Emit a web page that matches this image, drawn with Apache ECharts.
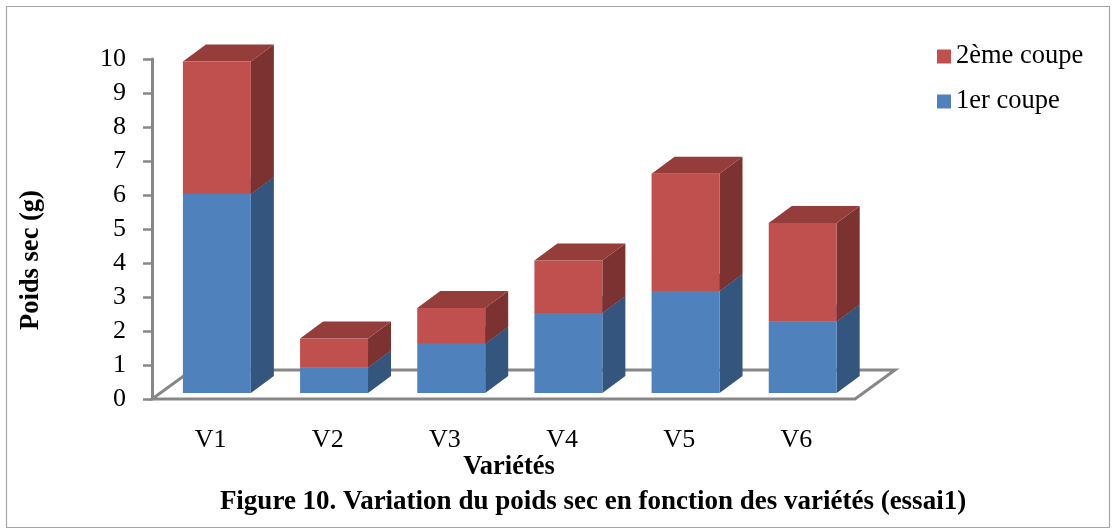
<!DOCTYPE html>
<html>
<head>
<meta charset="utf-8">
<script src="https://cdn.jsdelivr.net/npm/echarts@6/dist/echarts.min.js"></script>
<style>
html,body{margin:0;padding:0;background:#ffffff;}
#c{width:1116px;height:531px;}
</style>
</head>
<body>
<div id="c"></div>
<script>
// ---- data ----
const categories = ['V1', 'V2', 'V3', 'V4', 'V5', 'V6'];
const firstCut  = [5.85, 0.75, 1.45, 2.35, 3.0, 2.1];   // 1er coupe
const secondCut = [3.9, 0.85, 1.05, 1.55, 3.45, 2.9];   // 2ème coupe
const seriesNames = ['1er coupe', '2ème coupe'];
const yMin = 0, yMax = 10, yStep = 1;

// ---- styling ----
const FONT = '"Liberation Serif", "Times New Roman", serif';
const COLORS = {
  blue: { front: '#4f81bd', side: '#33557e', top: '#3f679a' },
  red:  { front: '#c0504d', side: '#7b3230', top: '#943d3b' }
};
const BAR_RATIO = 0.58;     // bar width / category width
const FRONT_DX = 6.3, FRONT_DY = -6;   // bar front plane offset from axis plane
const DEPTH_DX = 23, DEPTH_DY = -17;   // bar depth
const FLOOR_DX = 40, FLOOR_DY = -29;   // floor depth

const blueData = categories.map((c, i) => [i, 0, firstCut[i]]);
const redData  = categories.map((c, i) => [i, firstCut[i], firstCut[i] + secondCut[i]]);

function makeRender(pal) {
  return function (params, api) {
    const i = api.value(0), lo = api.value(1), hi = api.value(2);
    const pLo = api.coord([i, lo]);
    const pHi = api.coord([i, hi]);
    const band = api.size([1, 0])[0];
    const w = band * BAR_RATIO;
    const x0 = pLo[0] - w / 2 + FRONT_DX, x1 = x0 + w;
    const yb = pLo[1] + FRONT_DY, yt = pHi[1] + FRONT_DY;
    return {
      type: 'group',
      children: [
        { type: 'polygon', shape: { points: [[x1, yb], [x1 + DEPTH_DX, yb + DEPTH_DY], [x1 + DEPTH_DX, yt + DEPTH_DY], [x1, yt]] },
          style: { fill: pal.side } },
        { type: 'polygon', shape: { points: [[x0, yt], [x1, yt], [x1 + DEPTH_DX, yt + DEPTH_DY], [x0 + DEPTH_DX, yt + DEPTH_DY]] },
          style: { fill: pal.top } },
        { type: 'rect', shape: { x: x0, y: yt, width: w, height: yb - yt },
          style: { fill: pal.front } }
      ]
    };
  };
}

function renderFloor(params, api) {
  const cs = params.coordSys;
  const y0 = api.coord([0, 0])[1];
  const xl = cs.x, xr = cs.x + cs.width;
  return {
    type: 'polygon',
    shape: { points: [[xl, y0], [xr, y0], [xr + FLOOR_DX, y0 + FLOOR_DY], [xl + FLOOR_DX, y0 + FLOOR_DY]] },
    style: { fill: '#ffffff', stroke: '#878787', lineWidth: 3, lineJoin: 'miter' },
    z2: 0
  };
}

const chart = echarts.init(document.getElementById('c'), null, { renderer: 'canvas' });
chart.setOption({
  animation: false,
  backgroundColor: '#ffffff',
  grid: { left: 152, right: 261, top: 59, bottom: 132, containLabel: false },
  legend: {
    orient: 'vertical',
    left: 937, top: 43,
    padding: 0,
    itemWidth: 14, itemHeight: 14, itemGap: 18,
    icon: 'rect',
    data: [seriesNames[1], seriesNames[0]],
    textStyle: { fontFamily: FONT, fontSize: 26.5, color: '#000', lineHeight: 26 }
  },
  xAxis: {
    type: 'category',
    data: categories,
    axisLine: { show: false },
    axisTick: { show: false },
    axisLabel: { margin: 28, fontFamily: FONT, fontSize: 26, color: '#000' },
    splitLine: { show: false }
  },
  yAxis: {
    type: 'value',
    min: yMin, max: yMax, interval: yStep,
    axisLine: { show: true, lineStyle: { color: '#878787', width: 3 } },
    axisTick: { show: true, length: 9, lineStyle: { color: '#878787', width: 2.5 } },
    axisLabel: { margin: 26, fontFamily: FONT, fontSize: 26, color: '#000' },
    splitLine: { show: false }
  },
  graphic: [
    { type: 'rect', shape: { x: 6.5, y: 6.5, width: 1103, height: 521 },
      style: { fill: null, stroke: '#a6a6a6', lineWidth: 1.2 }, silent: true, z: -10 },
    { type: 'text', x: 31, y: 260, rotation: Math.PI / 2,
      style: { text: 'Poids sec (g)', font: 'bold 26.5px ' + FONT, fill: '#000', align: 'center', verticalAlign: 'middle' } },
    { type: 'text', x: 509, y: 467,
      style: { text: 'Variétés', font: 'bold 26.5px ' + FONT, fill: '#000', align: 'center', verticalAlign: 'middle' } },
    { type: 'text', x: 593, y: 502,
      style: { text: 'Figure 10. Variation du poids sec en fonction des variétés (essai1)', font: 'bold 27px ' + FONT, fill: '#000', align: 'center', verticalAlign: 'middle' } }
  ],
  series: [
    { type: 'custom', name: 'floor', data: [[0, 0, 0]], encode: { x: 0, y: [1, 2] },
      renderItem: renderFloor, silent: true, z: 1 },
    { type: 'custom', name: seriesNames[0], data: blueData, encode: { x: 0, y: [1, 2] },
      itemStyle: { color: COLORS.blue.front }, renderItem: makeRender(COLORS.blue), z: 2 },
    { type: 'custom', name: seriesNames[1], data: redData, encode: { x: 0, y: [1, 2] },
      itemStyle: { color: COLORS.red.front }, renderItem: makeRender(COLORS.red), z: 3 }
  ]
});
</script>
</body>
</html>
